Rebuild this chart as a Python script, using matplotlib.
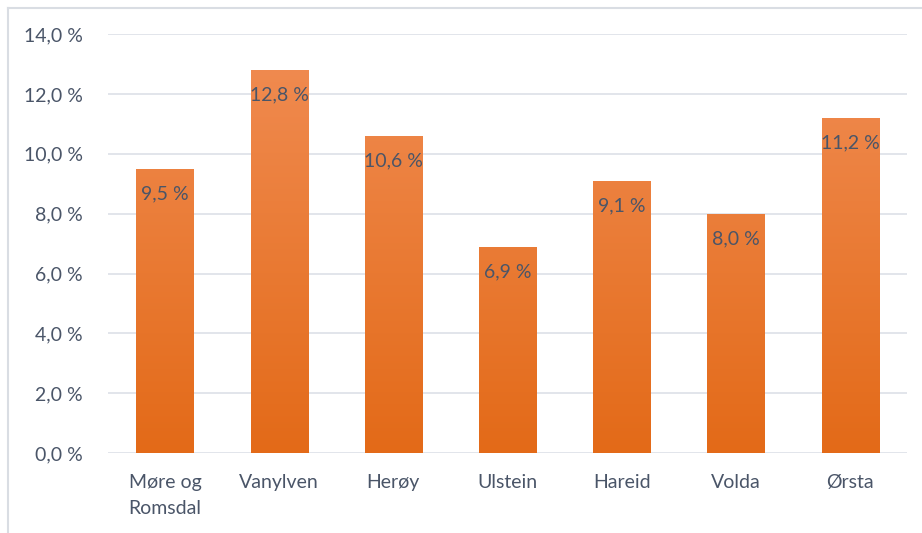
import numpy as np
import matplotlib
matplotlib.use("Agg")
import matplotlib.pyplot as plt
from matplotlib.colors import LinearSegmentedColormap
from matplotlib.lines import Line2D

categories = ["Møre og\nRomsdal", "Vanylven", "Herøy", "Ulstein", "Hareid", "Volda", "Ørsta"]
values = [9.5, 12.8, 10.6, 6.9, 9.1, 8.0, 11.2]
yticks = [0, 2, 4, 6, 8, 10, 12, 14]

TEXT = "#4a5568"
GRID = "#dfe3e9"

plt.rcParams["font.family"] = ["Lato", "DejaVu Sans"]

fig = plt.figure(figsize=(9.22, 5.33), dpi=100)
ax = fig.add_axes([0.117, 0.150, 0.867, 0.786])

# frame: only the top and left edges are inside the image
fx, fy = 7.5 / 922, 1 - 7.5 / 533
fig.lines.append(Line2D([fx, 1.0], [fy, fy], transform=fig.transFigure,
                        color="#d9dde3", linewidth=1.5))
fig.lines.append(Line2D([fx, fx], [0.0, fy], transform=fig.transFigure,
                        color="#d9dde3", linewidth=1.5))

x = np.arange(len(categories))
bars = ax.bar(x, values, width=0.5, color="none", edgecolor="none", zorder=3)

cmap = LinearSegmentedColormap.from_list("og", ["#e36a18", "#f18d54"])
grad = np.linspace(0, 1, 256).reshape(-1, 1)
for b, v in zip(bars, values):
    im = ax.imshow(grad, cmap=cmap, aspect="auto", origin="lower",
                   extent=(b.get_x(), b.get_x() + b.get_width(), 0, 14), zorder=3,
                   vmin=0, vmax=1)
    im.set_clip_path(b)
    ax.annotate(f"{v:.1f} %".replace(".", ","), (b.get_x() + b.get_width() / 2, v),
                xytext=(0, -12), textcoords="offset points", ha="center", va="top",
                fontsize=14, color=TEXT, zorder=4)

ax.set_xlim(-0.5, len(categories) - 0.5)
ax.set_ylim(0, 14)
ax.set_yticks(yticks)
ax.set_yticklabels([f"{t:.1f} %".replace(".", ",") for t in yticks])
ax.set_xticks(x)
ax.set_xticklabels(categories, linespacing=1.65)
ax.tick_params(length=0, labelsize=14, labelcolor=TEXT)
ax.tick_params(axis="y", pad=18)
ax.tick_params(axis="x", pad=15)
ax.grid(axis="y", color=GRID, linewidth=1.3, zorder=0)
for s in ax.spines.values():
    s.set_visible(False)

fig.savefig("out.png", dpi=100)
